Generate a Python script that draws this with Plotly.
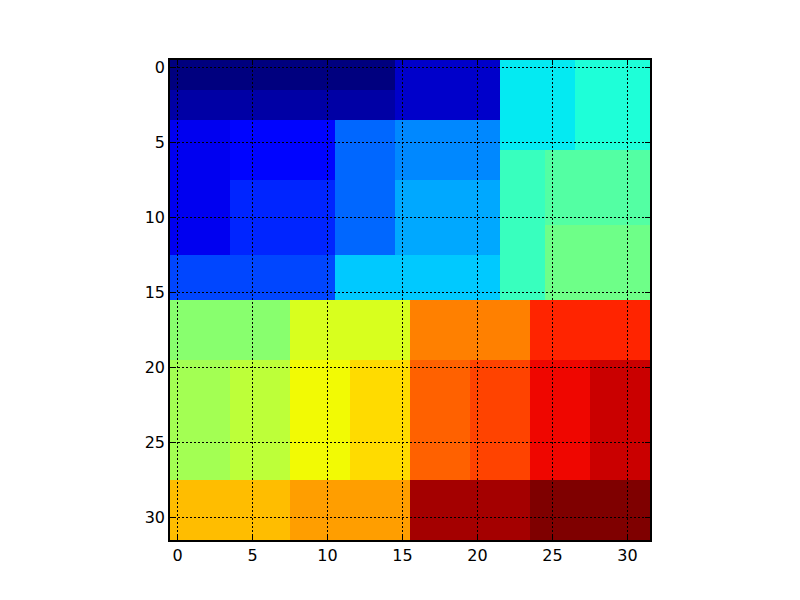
import numpy as np
import plotly.graph_objects as go

# 32x32 block matrix, values are block order (0..31)
z = [
    [0]*15 + [2]*7 + [11]*5 + [12]*5,
    [0]*15 + [2]*7 + [11]*5 + [12]*5,
    [1]*15 + [2]*7 + [11]*5 + [12]*5,
    [1]*15 + [2]*7 + [11]*5 + [12]*5,
    [3]*4 + [4]*7 + [7]*4 + [8]*7 + [11]*5 + [12]*5,
    [3]*4 + [4]*7 + [7]*4 + [8]*7 + [11]*5 + [12]*5,
    [3]*4 + [4]*7 + [7]*4 + [8]*7 + [13]*3 + [14]*7,
    [3]*4 + [4]*7 + [7]*4 + [8]*7 + [13]*3 + [14]*7,
    [3]*4 + [5]*7 + [7]*4 + [9]*7 + [13]*3 + [14]*7,
    [3]*4 + [5]*7 + [7]*4 + [9]*7 + [13]*3 + [14]*7,
    [3]*4 + [5]*7 + [7]*4 + [9]*7 + [13]*3 + [14]*7,
    [3]*4 + [5]*7 + [7]*4 + [9]*7 + [13]*3 + [15]*7,
    [3]*4 + [5]*7 + [7]*4 + [9]*7 + [13]*3 + [15]*7,
    [6]*11 + [10]*11 + [13]*3 + [15]*7,
    [6]*11 + [10]*11 + [13]*3 + [15]*7,
    [6]*11 + [10]*11 + [13]*3 + [15]*7,
    [16]*8 + [19]*8 + [24]*8 + [27]*8,
    [16]*8 + [19]*8 + [24]*8 + [27]*8,
    [16]*8 + [19]*8 + [24]*8 + [27]*8,
    [16]*8 + [19]*8 + [24]*8 + [27]*8,
    [17]*4 + [18]*4 + [20]*4 + [21]*4 + [25]*4 + [26]*4 + [28]*4 + [29]*4,
    [17]*4 + [18]*4 + [20]*4 + [21]*4 + [25]*4 + [26]*4 + [28]*4 + [29]*4,
    [17]*4 + [18]*4 + [20]*4 + [21]*4 + [25]*4 + [26]*4 + [28]*4 + [29]*4,
    [17]*4 + [18]*4 + [20]*4 + [21]*4 + [25]*4 + [26]*4 + [28]*4 + [29]*4,
    [17]*4 + [18]*4 + [20]*4 + [21]*4 + [25]*4 + [26]*4 + [28]*4 + [29]*4,
    [17]*4 + [18]*4 + [20]*4 + [21]*4 + [25]*4 + [26]*4 + [28]*4 + [29]*4,
    [17]*4 + [18]*4 + [20]*4 + [21]*4 + [25]*4 + [26]*4 + [28]*4 + [29]*4,
    [17]*4 + [18]*4 + [20]*4 + [21]*4 + [25]*4 + [26]*4 + [28]*4 + [29]*4,
    [22]*8 + [23]*8 + [30]*8 + [31]*8,
    [22]*8 + [23]*8 + [30]*8 + [31]*8,
    [22]*8 + [23]*8 + [30]*8 + [31]*8,
    [22]*8 + [23]*8 + [30]*8 + [31]*8,
]
tick_vals = [0, 5, 10, 15, 20, 25, 30]

# matplotlib "jet" as a plotly colorscale
stops = [0, 0.11, 0.125, 0.34, 0.35, 0.375, 0.64, 0.65, 0.66, 0.89, 0.91, 1]
red = np.interp(stops, [0, 0.35, 0.66, 0.89, 1], [0, 0, 1, 1, 0.5])
green = np.interp(stops, [0, 0.125, 0.375, 0.64, 0.91, 1], [0, 0, 1, 1, 0, 0])
blue = np.interp(stops, [0, 0.11, 0.34, 0.65, 1], [0.5, 1, 1, 0, 0])
jet = [[s, "rgb(%d,%d,%d)" % (r * 255, g * 255, b * 255)]
       for s, r, g, b in zip(stops, red, green, blue)]

fig = go.Figure(go.Heatmap(z=z, colorscale=jet, zmin=0, zmax=31,
                           showscale=False, hoverinfo="z"))

# dotted grid drawn over the image, like matplotlib's grid(True)
grid = dict(color="black", width=1, dash="2px,2px")
for t in tick_vals:
    fig.add_vline(x=t, line=grid, layer="above")
    fig.add_hline(y=t, line=grid, layer="above")

axis_style = dict(tickvals=tick_vals, ticks="inside", ticklen=5, tickcolor="black",
                  showline=True, linecolor="black", linewidth=1.5, mirror="allticks",
                  showgrid=False, zeroline=False, layer="above traces",
                  tickfont=dict(family="DejaVu Sans", size=16, color="black"))
fig.update_xaxes(range=[-0.5, 31.5], constrain="domain", **axis_style)
fig.update_yaxes(range=[31.5, -0.5], **axis_style)

# page body adds 8px margin, so size is trimmed to fit the 800x600 window
fig.update_layout(width=784, height=584, plot_bgcolor="white", paper_bgcolor="white",
                  margin=dict(l=162, r=142, t=52, b=52))

fig.write_html("out.html")
